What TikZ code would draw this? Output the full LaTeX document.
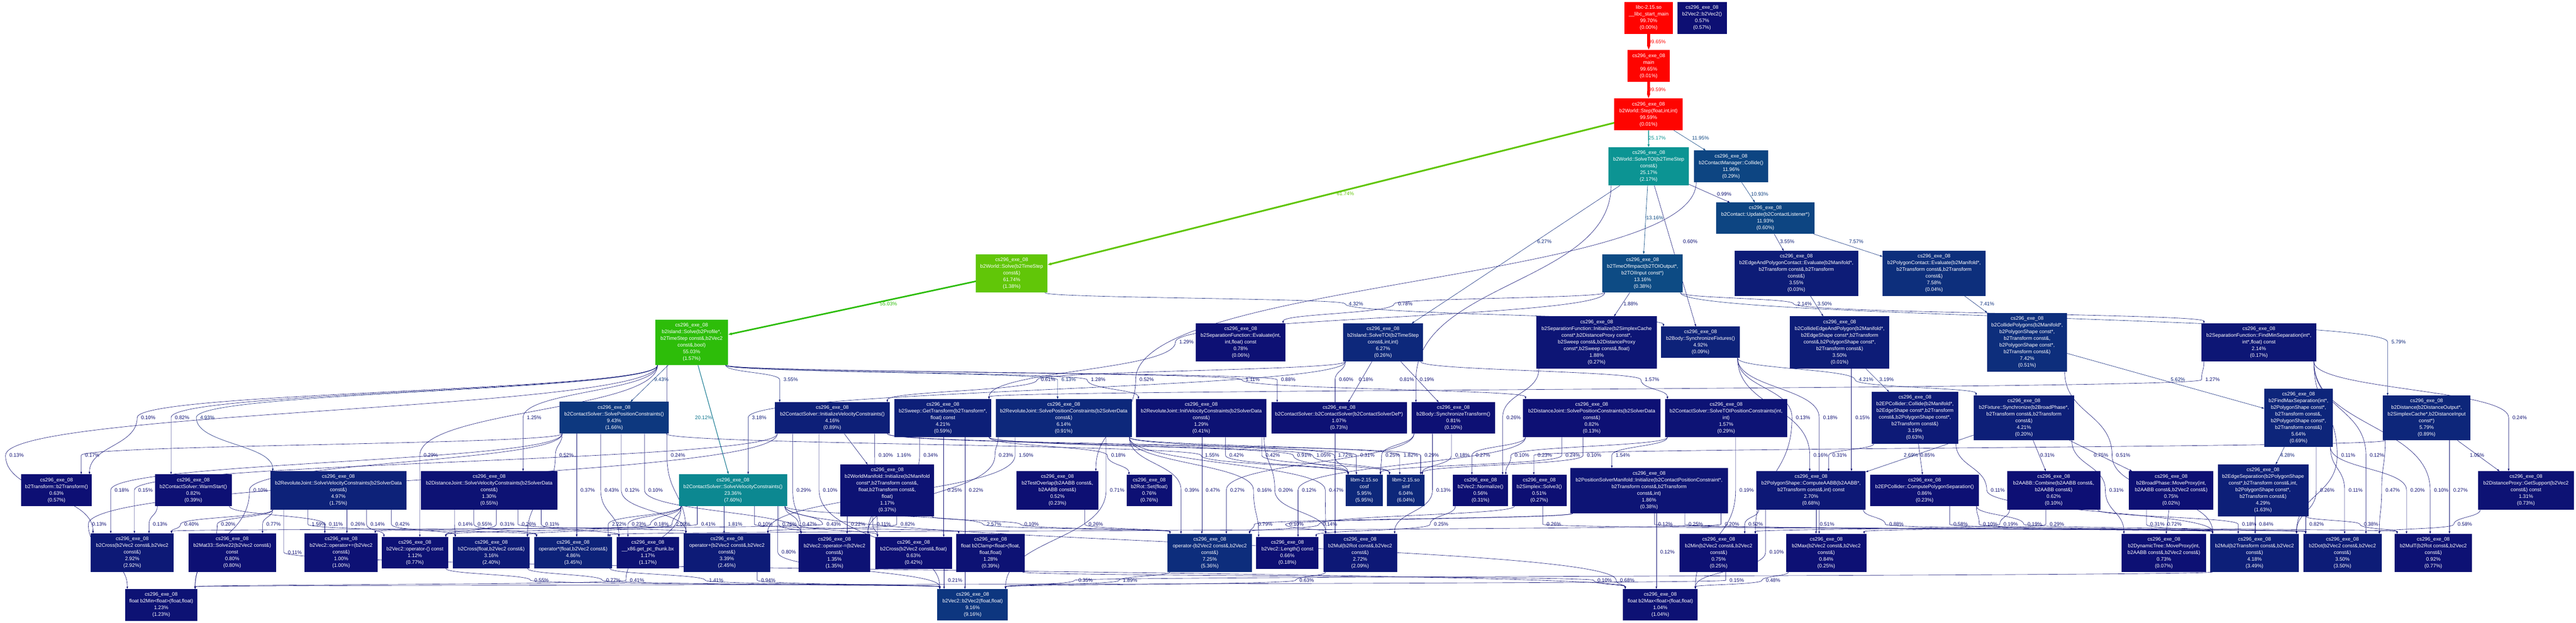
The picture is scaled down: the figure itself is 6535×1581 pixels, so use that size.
\documentclass[tikz,border=0pt]{standalone}
\usepackage{fontspec}
\setmainfont{Liberation Sans}
\usetikzlibrary{arrows.meta}
\pgfdeclarelayer{bg}
\pgfdeclarelayer{edges}
\pgfsetlayers{bg,edges,main}
\tikzset{
  gpnode/.style={rectangle, inner sep=0pt, outer sep=0pt, text=white, align=center, font=\fontsize{12.8}{17}\selectfont},
  gplabel/.style={inner sep=0pt, font=\fontsize{12.8}{17}\selectfont},
}
\newcommand\gpcs{cs296\_exe\_08}
\makeatletter
\newcommand\gp@chan[2]{%
  \pgfmathsetmacro\gp@x{#1}%
  \pgfmathsetmacro\gp@y{(\gp@x<1/6) ? (\gp@ma+(\gp@mb-\gp@ma)*\gp@x*6) : ((\gp@x<0.5) ? (\gp@mb) : ((\gp@x<2/3) ? (\gp@ma+(\gp@mb-\gp@ma)*(2/3-\gp@x)*6) : (\gp@ma)))}%
  \pgfmathsetmacro#2{max(0,min(1,\gp@y))}}
\newcommand\gpSetColor[2]{%
  \pgfmathsetmacro\gp@h{2/3*(1-(#2))}%
  \pgfmathsetmacro\gp@s{0.8+0.2*(#2)}%
  \pgfmathsetmacro\gp@l{0.25+0.25*(#2)}%
  \pgfmathsetmacro\gp@mb{\gp@l*(1+\gp@s)}%
  \pgfmathsetmacro\gp@ma{2*\gp@l-\gp@mb}%
  \gp@chan{mod(\gp@h+1/3,1)}\gp@r
  \gp@chan{\gp@h}\gp@g
  \gp@chan{mod(\gp@h+2/3,1)}\gp@b
  \edef\gp@tmp{\noexpand\definecolor{#1}{rgb}{\gp@r,\gp@g,\gp@b}}\gp@tmp}
\newcommand\gpN[7]{%
  \gpSetColor{gpc#1}{#6}%
  \expandafter\xdef\csname gpxa@#1\endcsname{#2}%
  \expandafter\xdef\csname gpya@#1\endcsname{#3}%
  \expandafter\xdef\csname gpxb@#1\endcsname{#4}%
  \expandafter\xdef\csname gpyb@#1\endcsname{#5}%
  \pgfmathsetmacro\gp@w{#4-#2}%
  \pgfmathsetmacro\gp@hh{#5-#3}%
  \pgfmathsetmacro\gp@cx{(#2+#4)/2}%
  \pgfmathsetmacro\gp@cy{(#3+#5)/2}%
  \node[gpnode,fill=gpc#1,minimum width=\gp@w pt,minimum height=\gp@hh pt] (#1) at (\gp@cx,\gp@cy) {#7};}
\newcommand\gp@edgestyle[1]{%
  \gpSetColor{gpe}{(#1)/100}%
  \pgfmathsetmacro\gp@lw{max(0.8,7*(#1)/100)}%
  \pgfmathsetmacro\gp@al{6+6*(#1)/100}%
  \pgfmathsetmacro\gp@aw{0.65*\gp@al}}
\newcommand\gpEs[5]{%
  \gp@edgestyle{#1}%
  \begin{pgfonlayer}{edges}%
  \draw[gpe,line width=\gp@lw pt,-{Triangle[length=\gp@al pt,width=\gp@aw pt]}] (#2) -- (#3);%
  \node[gplabel,text=gpe] at (#4,#5) {#1\%};%
  \end{pgfonlayer}}
\newcommand\gpEc[5]{%
  \gp@edgestyle{#1}%
  \edef\gp@axa{\csname gpxa@#2\endcsname}%
  \edef\gp@axb{\csname gpxb@#2\endcsname}%
  \edef\gp@ayb{\csname gpyb@#2\endcsname}%
  \edef\gp@bxa{\csname gpxa@#3\endcsname}%
  \edef\gp@bxb{\csname gpxb@#3\endcsname}%
  \edef\gp@bya{\csname gpya@#3\endcsname}%
  \pgfmathsetmacro\gp@mx{#4-28}%
  \pgfmathsetmacro\gp@sx{max(\gp@axa+6,min(\gp@axb-6,\gp@mx))}%
  \pgfmathsetmacro\gp@tx{max(\gp@bxa+6,min(\gp@bxb-6,\gp@mx))}%
  \pgfmathsetmacro\gp@dsx{\gp@sx-\gp@axa}%
  \pgfmathsetmacro\gp@dtx{\gp@tx-\gp@bxa}%
  \pgfmathsetmacro\gp@ca{(\gp@ayb+#5)/2}%
  \pgfmathsetmacro\gp@cb{(#5+\gp@bya)/2}%
  \begin{pgfonlayer}{edges}%
  \draw[gpe,line width=\gp@lw pt,-{Triangle[length=\gp@al pt,width=\gp@aw pt]}]
    ([xshift=\gp@dsx pt]#2.south west) .. controls (\gp@sx,\gp@ca) and (\gp@mx,\gp@ca) .. (\gp@mx,#5)
    .. controls (\gp@mx,\gp@cb) and (\gp@tx,\gp@cb) .. ([xshift=\gp@dtx pt]#3.north west);%
  \node[gplabel,text=gpe] at (#4,#5) {#1\%};%
  \end{pgfonlayer}}
\makeatother
\begin{document}
\begin{tikzpicture}[x=1pt,y=-1pt]
\useasboundingbox (0,0) rectangle (6535,1581);
\begin{pgfonlayer}{bg}
\fill[white] (0,0) rectangle (6535,1581);
\end{pgfonlayer}
% ---------------- nodes ----------------
\gpN{libc}{4121}{5}{4244}{86}{0.9970}{libc-2.15.so\\\_\_libc\_start\_main\\99.70\%\\(0.00\%)}
\gpN{vecctor}{4255}{5}{4381}{86}{0.0057}{\gpcs\\b2Vec2::b2Vec2()\\0.57\%\\(0.57\%)}
\gpN{main}{4129}{127}{4236}{208}{0.9965}{\gpcs\\main\\99.65\%\\(0.01\%)}
\gpN{step}{4095}{250}{4269}{331}{0.9959}{\gpcs\\b2World::Step(float,int,int)\\99.59\%\\(0.01\%)}
\gpN{solvetoi}{4081}{374}{4284}{471}{0.2517}{\gpcs\\b2World::SolveTOI(b2TimeStep\\const\&)\\25.17\%\\(2.17\%)}
\gpN{collide}{4297}{382}{4486}{463}{0.1196}{\gpcs\\b2ContactManager::Collide()\\11.96\%\\(0.29\%)}
\gpN{update}{4354}{514}{4603}{594}{0.1193}{\gpcs\\b2Contact::Update(b2ContactListener*)\\11.93\%\\(0.60\%)}
\gpN{wsolve}{2476}{646}{2657}{743}{0.6174}{\gpcs\\b2World::Solve(b2TimeStep\\const\&)\\61.74\%\\(1.38\%)}
\gpN{toi}{4065}{645}{4269}{743}{0.1316}{\gpcs\\b2TimeOfImpact(b2TOIOutput*,\\b2TOIInput const*)\\13.16\%\\(0.38\%)}
\gpN{edgepolyeval}{4400}{637}{4714}{751}{0.0355}{\gpcs\\b2EdgeAndPolygonContact::Evaluate(b2Manifold*,\\b2Transform const\&,b2Transform\\const\&)\\3.55\%\\(0.03\%)}
\gpN{polyeval}{4776}{637}{5037}{751}{0.0758}{\gpcs\\b2PolygonContact::Evaluate(b2Manifold*,\\b2Transform const\&,b2Transform\\const\&)\\7.58\%\\(0.04\%)}
\gpN{isolve}{1662}{811}{1847}{927}{0.5503}{\gpcs\\b2Island::Solve(b2Profile*,\\b2TimeStep const\&,b2Vec2\\const\&,bool)\\55.03\%\\(1.57\%)}
\gpN{sepeval}{3034}{821}{3261}{918}{0.0078}{\gpcs\\b2SeparationFunction::Evaluate(int,\\int,float) const\\0.78\%\\(0.06\%)}
\gpN{isolvetoi}{3407}{821}{3610}{918}{0.0627}{\gpcs\\b2Island::SolveTOI(b2TimeStep\\const\&,int,int)\\6.27\%\\(0.26\%)}
\gpN{sepinit}{3898}{803}{4203}{936}{0.0188}{\gpcs\\b2SeparationFunction::Initialize(b2SimplexCache\\const*,b2DistanceProxy const*,\\b2Sweep const\&,b2DistanceProxy\\const*,b2Sweep const\&,float)\\1.88\%\\(0.27\%)}
\gpN{syncfix}{4214}{829}{4414}{909}{0.0492}{\gpcs\\b2Body::SynchronizeFixtures()\\4.92\%\\(0.09\%)}
\gpN{collideedgepoly}{4541}{803}{4793}{936}{0.0350}{\gpcs\\b2CollideEdgeAndPolygon(b2Manifold*,\\b2EdgeShape const*,b2Transform\\const\&,b2PolygonShape const*,\\b2Transform const\&)\\3.50\%\\(0.01\%)}
\gpN{collidepolys}{5041}{794}{5244}{944}{0.0742}{\gpcs\\b2CollidePolygons(b2Manifold*,\\b2PolygonShape const*,\\b2Transform const\&,\\b2PolygonShape const*,\\b2Transform const\&)\\7.42\%\\(0.51\%)}
\gpN{findminsep}{5585}{821}{5876}{918}{0.0214}{\gpcs\\b2SeparationFunction::FindMinSeparation(int*,\\int*,float) const\\2.14\%\\(0.17\%)}
\gpN{solvepos}{1420}{1020}{1696}{1101}{0.0943}{\gpcs\\b2ContactSolver::SolvePositionConstraints()\\9.43\%\\(1.66\%)}
\gpN{initvel}{1966}{1021}{2257}{1101}{0.0416}{\gpcs\\b2ContactSolver::InitializeVelocityConstraints()\\4.16\%\\(0.89\%)}
\gpN{gettransform}{2269}{1013}{2515}{1110}{0.0421}{\gpcs\\b2Sweep::GetTransform(b2Transform*,\\float) const\\4.21\%\\(0.59\%)}
\gpN{revsolvepos}{2526}{1013}{2871}{1110}{0.0614}{\gpcs\\b2RevoluteJoint::SolvePositionConstraints(b2SolverData\\const\&)\\6.14\%\\(0.91\%)}
\gpN{revinitvel}{2882}{1013}{3213}{1110}{0.0129}{\gpcs\\b2RevoluteJoint::InitVelocityConstraints(b2SolverData\\const\&)\\1.29\%\\(0.41\%)}
\gpN{csctor}{3225}{1021}{3569}{1101}{0.0107}{\gpcs\\b2ContactSolver::b2ContactSolver(b2ContactSolverDef*)\\1.07\%\\(0.73\%)}
\gpN{synctrans}{3581}{1021}{3793}{1101}{0.0081}{\gpcs\\b2Body::SynchronizeTransform()\\0.81\%\\(0.10\%)}
\gpN{distsolvepos}{3864}{1013}{4212}{1110}{0.0082}{\gpcs\\b2DistanceJoint::SolvePositionConstraints(b2SolverData\\const\&)\\0.82\%\\(0.13\%)}
\gpN{toisolvepos}{4224}{1013}{4534}{1110}{0.0157}{\gpcs\\b2ContactSolver::SolveTOIPositionConstraints(int,\\int)\\1.57\%\\(0.29\%)}
\gpN{epcollide}{4748}{995}{4968}{1126}{0.0319}{\gpcs\\b2EPCollider::Collide(b2Manifold*,\\b2EdgeShape const*,b2Transform\\const\&,b2PolygonShape const*,\\b2Transform const\&)\\3.19\%\\(0.63\%)}
\gpN{fixsync}{5007}{1004}{5262}{1118}{0.0421}{\gpcs\\b2Fixture::Synchronize(b2BroadPhase*,\\b2Transform const\&,b2Transform\\const\&)\\4.21\%\\(0.20\%)}
\gpN{findmaxsep}{5744}{987}{5918}{1135}{0.0564}{\gpcs\\b2FindMaxSeparation(int*,\\b2PolygonShape const*,\\b2Transform const\&,\\b2PolygonShape const*,\\b2Transform const\&)\\5.64\%\\(0.69\%)}
\gpN{distance}{6045}{1004}{6267}{1118}{0.0579}{\gpcs\\b2Distance(b2DistanceOutput*,\\b2SimplexCache*,b2DistanceInput\\const*)\\5.79\%\\(0.89\%)}
\gpN{transform}{54}{1204}{233}{1285}{0.0063}{\gpcs\\b2Transform::b2Transform()\\0.63\%\\(0.57\%)}
\gpN{warmstart}{393}{1204}{588}{1285}{0.0082}{\gpcs\\b2ContactSolver::WarmStart()\\0.82\%\\(0.39\%)}
\gpN{revsolvevel}{686}{1196}{1031}{1294}{0.0497}{\gpcs\\b2RevoluteJoint::SolveVelocityConstraints(b2SolverData\\const\&)\\4.97\%\\(1.75\%)}
\gpN{distsolvevel}{1068}{1196}{1414}{1294}{0.0130}{\gpcs\\b2DistanceJoint::SolveVelocityConstraints(b2SolverData\\const\&)\\1.30\%\\(0.55\%)}
\gpN{solvevel}{1722}{1204}{1997}{1285}{0.2336}{\gpcs\\b2ContactSolver::SolveVelocityConstraints()\\23.36\%\\(7.60\%)}
\gpN{wmanifold}{2132}{1179}{2370}{1311}{0.0117}{\gpcs\\b2WorldManifold::Initialize(b2Manifold\\const*,b2Transform const\&,\\float,b2Transform const\&,\\float)\\1.17\%\\(0.37\%)}
\gpN{testoverlap}{2579}{1196}{2786}{1294}{0.0052}{\gpcs\\b2TestOverlap(b2AABB const\&,\\b2AABB const\&)\\0.52\%\\(0.23\%)}
\gpN{rotset}{2858}{1205}{2973}{1285}{0.0076}{\gpcs\\b2Rot::Set(float)\\0.76\%\\(0.76\%)}
\gpN{cosf}{3414}{1205}{3508}{1285}{0.0595}{libm-2.15.so\\cosf\\5.95\%\\(5.95\%)}
\gpN{sinf}{3519}{1205}{3614}{1285}{0.0604}{libm-2.15.so\\sinf\\6.04\%\\(6.04\%)}
\gpN{normalize}{3686}{1205}{3826}{1285}{0.0056}{\gpcs\\b2Vec2::Normalize()\\0.56\%\\(0.31\%)}
\gpN{solve3}{3836}{1205}{3974}{1285}{0.0051}{\gpcs\\b2Simplex::Solve3()\\0.51\%\\(0.27\%)}
\gpN{psm}{3984}{1188}{4383}{1303}{0.0186}{\gpcs\\b2PositionSolverManifold::Initialize(b2ContactPositionConstraint*,\\b2Transform const\&,b2Transform\\const\&,int)\\1.86\%\\(0.38\%)}
\gpN{computeaabb}{4456}{1196}{4733}{1294}{0.0270}{\gpcs\\b2PolygonShape::ComputeAABB(b2AABB*,\\b2Transform const\&,int) const\\2.70\%\\(0.68\%)}
\gpN{cps}{4745}{1205}{5020}{1285}{0.0086}{\gpcs\\b2EPCollider::ComputePolygonSeparation()\\0.86\%\\(0.23\%)}
\gpN{combine}{5092}{1196}{5328}{1294}{0.0062}{\gpcs\\b2AABB::Combine(b2AABB const\&,\\b2AABB const\&)\\0.62\%\\(0.10\%)}
\gpN{bpmove}{5401}{1196}{5615}{1294}{0.0075}{\gpcs\\b2BroadPhase::MoveProxy(int,\\b2AABB const\&,b2Vec2 const\&)\\0.75\%\\(0.02\%)}
\gpN{edgesep}{5626}{1179}{5856}{1311}{0.0429}{\gpcs\\b2EdgeSeparation(b2PolygonShape\\const*,b2Transform const\&,int,\\b2PolygonShape const*,\\b2Transform const\&)\\4.29\%\\(1.63\%)}
\gpN{getsupport}{6286}{1196}{6530}{1294}{0.0131}{\gpcs\\b2DistanceProxy::GetSupport(b2Vec2\\const\&) const\\1.31\%\\(0.73\%)}
\gpN{crossvv}{230}{1354}{441}{1452}{0.0292}{\gpcs\\b2Cross(b2Vec2 const\&,b2Vec2\\const\&)\\2.92\%\\(2.92\%)}
\gpN{solve22}{478}{1354}{700}{1452}{0.0080}{\gpcs\\b2Mat33::Solve22(b2Vec2 const\&)\\const\\0.80\%\\(0.80\%)}
\gpN{pluseq}{773}{1354}{958}{1452}{0.0100}{\gpcs\\b2Vec2::operator+=(b2Vec2\\const\&)\\1.00\%\\(1.00\%)}
\gpN{neg}{968}{1363}{1137}{1443}{0.0112}{\gpcs\\b2Vec2::operator-() const\\1.12\%\\(0.77\%)}
\gpN{crossfv}{1149}{1363}{1344}{1443}{0.0316}{\gpcs\\b2Cross(float,b2Vec2 const\&)\\3.16\%\\(2.40\%)}
\gpN{mulfv}{1355}{1363}{1553}{1443}{0.0486}{\gpcs\\operator*(float,b2Vec2 const\&)\\4.86\%\\(3.45\%)}
\gpN{thunk}{1564}{1363}{1723}{1443}{0.0117}{\gpcs\\\_\_x86.get\_pc\_thunk.bx\\1.17\%\\(1.17\%)}
\gpN{plus}{1734}{1354}{1954}{1452}{0.0339}{\gpcs\\operator+(b2Vec2 const\&,b2Vec2\\const\&)\\3.39\%\\(2.45\%)}
\gpN{minuseq}{2026}{1355}{2208}{1452}{0.0135}{\gpcs\\b2Vec2::operator-=(b2Vec2\\const\&)\\1.35\%\\(1.35\%)}
\gpN{crossvf}{2220}{1363}{2415}{1444}{0.0063}{\gpcs\\b2Cross(b2Vec2 const\&,float)\\0.63\%\\(0.42\%)}
\gpN{clamp}{2426}{1355}{2600}{1452}{0.0128}{\gpcs\\float b2Clamp<float>(float,\\float,float)\\1.28\%\\(0.39\%)}
\gpN{minus}{2962}{1355}{3176}{1452}{0.0725}{\gpcs\\operator-(b2Vec2 const\&,b2Vec2\\const\&)\\7.25\%\\(5.36\%)}
\gpN{length}{3187}{1363}{3345}{1444}{0.0066}{\gpcs\\b2Vec2::Length() const\\0.66\%\\(0.18\%)}
\gpN{mulrot}{3357}{1355}{3544}{1452}{0.0272}{\gpcs\\b2Mul(b2Rot const\&,b2Vec2\\const\&)\\2.72\%\\(2.09\%)}
\gpN{minvv}{4261}{1355}{4459}{1452}{0.0075}{\gpcs\\b2Min(b2Vec2 const\&,b2Vec2\\const\&)\\0.75\%\\(0.25\%)}
\gpN{maxvv}{4531}{1355}{4735}{1452}{0.0084}{\gpcs\\b2Max(b2Vec2 const\&,b2Vec2\\const\&)\\0.84\%\\(0.25\%)}
\gpN{dtmove}{5382}{1355}{5597}{1452}{0.0073}{\gpcs\\b2DynamicTree::MoveProxy(int,\\b2AABB const\&,b2Vec2 const\&)\\0.73\%\\(0.07\%)}
\gpN{multrans}{5607}{1355}{5832}{1452}{0.0418}{\gpcs\\b2Mul(b2Transform const\&,b2Vec2\\const\&)\\4.18\%\\(3.49\%)}
\gpN{dot}{5843}{1355}{6042}{1452}{0.0350}{\gpcs\\b2Dot(b2Vec2 const\&,b2Vec2\\const\&)\\3.50\%\\(3.50\%)}
\gpN{mult}{6075}{1355}{6271}{1452}{0.0092}{\gpcs\\b2MulT(b2Rot const\&,b2Vec2\\const\&)\\0.92\%\\(0.77\%)}
\gpN{minf}{317}{1495}{501}{1576}{0.0123}{\gpcs\\float b2Min<float>(float,float)\\1.23\%\\(1.23\%)}
\gpN{vec2ff}{2378}{1495}{2557}{1575}{0.0916}{\gpcs\\b2Vec2::b2Vec2(float,float)\\9.16\%\\(9.16\%)}
\gpN{maxf}{4117}{1495}{4307}{1575}{0.0104}{\gpcs\\float b2Max<float>(float,float)\\1.04\%\\(1.04\%)}
% ---------------- straight edges ----------------
\gpEs{99.65}{libc}{main}{4204}{106}
\gpEs{99.59}{main}{step}{4204}{228}
\gpEs{25.17}{step}{solvetoi}{4204}{351}
\gpEs{11.95}{step}{collide}{4314}{351}
\gpEs{61.74}{step}{wsolve}{3413}{492}
\gpEs{10.93}{collide}{update}{4464}{493}
\gpEs{0.99}{solvetoi}{update}{4374}{493}
\gpEs{13.16}{solvetoi}{toi}{4198}{553}
\gpEs{6.27}{solvetoi}{isolvetoi}{3918}{613}
\gpEs{0.60}{solvetoi}{syncfix}{4288}{613}
\gpEs{3.55}{update}{edgepolyeval}{4534}{613}
\gpEs{7.57}{update}{polyeval}{4709}{613}
\gpEs{55.03}{wsolve}{isolve}{2254}{771}
\gpEs{1.88}{toi}{sepinit}{4137}{771}
\gpEs{3.50}{edgepolyeval}{collideedgepoly}{4629}{771}
\gpEs{7.41}{polyeval}{collidepolys}{5041}{771}
\gpEs{9.43}{isolve}{solvepos}{1678}{964}
\gpEs{20.12}{isolve}{solvevel}{1785}{1060}
\gpEs{0.81}{isolvetoi}{synctrans}{3569}{964}
\gpEs{0.18}{isolvetoi}{csctor}{3465}{964}
\gpEs{3.19}{collideedgepoly}{epcollide}{4786}{964}
\gpEs{5.62}{collidepolys}{findmaxsep}{5525}{964}
\gpEs{4.28}{findmaxsep}{edgesep}{5803}{1156}
\gpEs{0.85}{epcollide}{cps}{4890}{1156}
\gpEs{1.05}{distance}{getsupport}{6284}{1156}
\gpEs{2.69}{fixsync}{computeaabb}{4848}{1156}
\gpEs{0.31}{fixsync}{combine}{5194}{1156}
\gpEs{0.75}{fixsync}{bpmove}{5330}{1156}
\gpEs{0.72}{bpmove}{dtmove}{5516}{1331}
\gpEs{1.16}{initvel}{wmanifold}{2293}{1156}
% ---------------- curved edges ----------------
\gpEc{4.32}{wsolve}{syncfix}{3440}{771}
\gpEc{0.78}{toi}{sepeval}{3565}{771}
\gpEc{2.14}{toi}{findminsep}{4578}{771}
\gpEc{5.79}{toi}{distance}{6085}{868}
\gpEc{1.29}{toi}{gettransform}{3010}{868}
\gpEc{0.24}{findminsep}{getsupport}{6392}{1060}
\gpEc{3.55}{isolve}{initvel}{2006}{964}
\gpEc{0.61}{isolvetoi}{initvel}{2659}{964}
\gpEc{6.13}{isolve}{revsolvepos}{2711}{964}
\gpEc{1.28}{isolve}{revinitvel}{2786}{964}
\gpEc{0.52}{collide}{testoverlap}{2909}{964}
\gpEc{1.11}{isolve}{distsolvepos}{3178}{964}
\gpEc{0.88}{isolve}{csctor}{3268}{964}
\gpEc{0.60}{isolvetoi}{mulrot}{3415}{964}
\gpEc{0.19}{solvetoi}{synctrans}{3620}{964}
\gpEc{1.57}{isolvetoi}{toisolvepos}{4191}{964}
\gpEc{4.21}{syncfix}{fixsync}{4734}{964}
\gpEc{1.27}{findminsep}{gettransform}{5613}{964}
\gpEc{0.10}{isolve}{transform}{376}{1060}
\gpEc{0.82}{isolve}{warmstart}{462}{1060}
\gpEc{4.93}{isolve}{revsolvevel}{526}{1060}
\gpEc{1.25}{isolve}{distsolvevel}{1355}{1060}
\gpEc{3.18}{isolvetoi}{solvevel}{1926}{1060}
\gpEc{0.26}{sepinit}{normalize}{3840}{1060}
\gpEc{0.13}{syncfix}{minvv}{4574}{1060}
\gpEc{0.18}{syncfix}{maxvv}{4643}{1060}
\gpEc{0.15}{collideedgepoly}{computeaabb}{4725}{1060}
\gpEc{0.13}{isolve}{crossvv}{42}{1156}
\gpEc{0.17}{solvepos}{transform}{234}{1156}
\gpEc{0.29}{isolve}{neg}{1093}{1156}
\gpEc{0.52}{solvepos}{crossfv}{1437}{1156}
\gpEc{0.24}{isolve}{plus}{1720}{1156}
\gpEc{0.10}{initvel}{crossvf}{2247}{1156}
\gpEc{0.34}{gettransform}{minuseq}{2361}{1156}
\gpEc{0.23}{revsolvepos}{minuseq}{2552}{1156}
\gpEc{1.50}{revsolvepos}{plus}{2603}{1156}
\gpEc{0.18}{gettransform}{rotset}{2837}{1156}
\gpEc{1.55}{solvepos}{cosf}{3075}{1156}
\gpEc{0.42}{revinitvel}{cosf}{3137}{1156}
\gpEc{0.42}{revinitvel}{sinf}{3229}{1156}
\gpEc{0.91}{gettransform}{cosf}{3309}{1156}
\gpEc{1.05}{gettransform}{sinf}{3358}{1156}
\gpEc{1.72}{revsolvepos}{cosf}{3413}{1156}
\gpEc{0.31}{initvel}{cosf}{3469}{1156}
\gpEc{0.25}{synctrans}{cosf}{3533}{1156}
\gpEc{1.82}{revsolvepos}{sinf}{3579}{1156}
\gpEc{0.29}{initvel}{sinf}{3632}{1156}
\gpEc{0.18}{synctrans}{sinf}{3710}{1156}
\gpEc{0.27}{distsolvepos}{normalize}{3762}{1156}
\gpEc{0.10}{toisolvepos}{normalize}{3861}{1156}
\gpEc{0.23}{distance}{solve3}{3919}{1156}
\gpEc{0.24}{distsolvepos}{cosf}{3990}{1156}
\gpEc{0.10}{distsolvepos}{sinf}{4044}{1156}
\gpEc{1.54}{toisolvepos}{psm}{4117}{1156}
\gpEc{0.16}{syncfix}{computeaabb}{4619}{1156}
\gpEc{0.31}{epcollide}{computeaabb}{4667}{1156}
\gpEc{0.51}{collidepolys}{multrans}{5386}{1156}
\gpEc{0.11}{findminsep}{multrans}{5957}{1156}
\gpEc{0.12}{findminsep}{dot}{6030}{1156}
\gpEc{0.18}{solvepos}{crossvv}{309}{1244}
\gpEc{0.15}{initvel}{crossvv}{369}{1244}
\gpEc{0.10}{solvepos}{minf}{661}{1244}
\gpEc{0.37}{solvepos}{mulfv}{1491}{1244}
\gpEc{0.43}{solvepos}{thunk}{1552}{1244}
\gpEc{0.12}{solvepos}{plus}{1604}{1244}
\gpEc{0.10}{solvepos}{minuseq}{1663}{1244}
\gpEc{0.29}{initvel}{minuseq}{2039}{1244}
\gpEc{0.10}{initvel}{vec2ff}{2106}{1244}
\gpEc{0.25}{gettransform}{crossvf}{2422}{1244}
\gpEc{0.22}{gettransform}{vec2ff}{2476}{1244}
\gpEc{0.71}{revsolvepos}{vec2ff}{2834}{1244}
\gpEc{0.39}{revsolvepos}{minus}{3024}{1244}
\gpEc{0.47}{revinitvel}{minus}{3077}{1244}
\gpEc{0.27}{synctrans}{minus}{3139}{1244}
\gpEc{0.16}{revsolvepos}{length}{3208}{1244}
\gpEc{0.20}{revinitvel}{mulrot}{3262}{1244}
\gpEc{0.12}{distsolvepos}{length}{3321}{1244}
\gpEc{0.47}{revsolvepos}{mulrot}{3390}{1244}
\gpEc{0.13}{synctrans}{mulrot}{3662}{1244}
\gpEc{0.19}{toisolvepos}{maxf}{4431}{1244}
\gpEc{0.11}{epcollide}{multrans}{5068}{1244}
\gpEc{0.31}{fixsync}{dtmove}{5369}{1244}
\gpEc{0.26}{findmaxsep}{multrans}{5904}{1244}
\gpEc{0.11}{findmaxsep}{dot}{5976}{1244}
\gpEc{0.47}{distance}{dot}{6070}{1244}
\gpEc{0.20}{findmaxsep}{mult}{6133}{1244}
\gpEc{0.10}{findminsep}{mult}{6193}{1244}
\gpEc{0.27}{distance}{mult}{6242}{1244}
\gpEc{0.13}{initvel}{minf}{252}{1331}
\gpEc{0.13}{warmstart}{crossvv}{406}{1331}
\gpEc{0.40}{revsolvevel}{crossvv}{486}{1331}
\gpEc{0.20}{revsolvevel}{minf}{579}{1331}
\gpEc{0.77}{revsolvevel}{solve22}{694}{1331}
\gpEc{1.59}{revsolvevel}{mulfv}{809}{1331}
\gpEc{0.11}{warmstart}{pluseq}{852}{1331}
\gpEc{0.26}{revsolvevel}{pluseq}{908}{1331}
\gpEc{0.14}{revsolvevel}{neg}{958}{1331}
\gpEc{0.42}{revsolvevel}{crossfv}{1021}{1331}
\gpEc{0.14}{distsolvevel}{crossfv}{1181}{1331}
\gpEc{0.55}{distsolvevel}{mulfv}{1230}{1331}
\gpEc{0.31}{distsolvevel}{neg}{1287}{1331}
\gpEc{0.26}{distsolvevel}{plus}{1342}{1331}
\gpEc{0.11}{distsolvevel}{thunk}{1401}{1331}
\gpEc{2.22}{solvevel}{mulfv}{1571}{1331}
\gpEc{0.23}{solvevel}{thunk}{1621}{1331}
\gpEc{0.18}{solvevel}{neg}{1678}{1331}
\gpEc{2.09}{solvevel}{crossfv}{1733}{1331}
\gpEc{0.41}{solvevel}{pluseq}{1797}{1331}
\gpEc{1.81}{solvevel}{plus}{1865}{1331}
\gpEc{0.10}{solvevel}{clamp}{1942}{1331}
\gpEc{0.76}{solvevel}{minuseq}{2003}{1331}
\gpEc{0.47}{solvevel}{crossvf}{2054}{1331}
\gpEc{0.43}{solvevel}{crossvv}{2115}{1331}
\gpEc{0.22}{wmanifold}{minuseq}{2177}{1331}
\gpEc{0.11}{wmanifold}{crossvf}{2242}{1331}
\gpEc{0.82}{wmanifold}{plus}{2303}{1331}
\gpEc{2.57}{solvevel}{minus}{2522}{1331}
\gpEc{0.10}{wmanifold}{minus}{2617}{1331}
\gpEc{0.26}{testoverlap}{minus}{2780}{1331}
\gpEc{0.79}{psm}{minus}{3210}{1331}
\gpEc{0.10}{psm}{mulrot}{3289}{1331}
\gpEc{0.14}{solve3}{minus}{3374}{1331}
\gpEc{0.25}{normalize}{length}{3656}{1331}
\gpEc{0.26}{solve3}{dot}{3942}{1331}
\gpEc{0.12}{psm}{dot}{4225}{1331}
\gpEc{0.25}{psm}{multrans}{4302}{1331}
\gpEc{0.20}{psm}{mulfv}{4394}{1331}
\gpEc{0.52}{computeaabb}{minvv}{4454}{1331}
\gpEc{0.51}{computeaabb}{maxvv}{4635}{1331}
\gpEc{0.88}{computeaabb}{multrans}{4811}{1331}
\gpEc{0.58}{cps}{dot}{4974}{1331}
\gpEc{0.10}{cps}{multrans}{5049}{1331}
\gpEc{0.19}{combine}{minvv}{5101}{1331}
\gpEc{0.19}{cps}{mult}{5162}{1331}
\gpEc{0.29}{combine}{maxvv}{5218}{1331}
\gpEc{0.31}{bpmove}{multrans}{5473}{1331}
\gpEc{0.18}{combine}{multrans}{5706}{1331}
\gpEc{0.84}{edgesep}{multrans}{5749}{1331}
\gpEc{0.82}{edgesep}{dot}{5877}{1331}
\gpEc{0.38}{edgesep}{mult}{6015}{1331}
\gpEc{0.58}{getsupport}{dot}{6253}{1331}
\gpEc{0.11}{revsolvevel}{maxf}{748}{1402}
\gpEc{0.80}{solvevel}{vec2ff}{2001}{1401}
\gpEc{0.12}{psm}{maxf}{4230}{1401}
\gpEc{0.10}{computeaabb}{maxf}{4507}{1401}
\gpEc{0.55}{neg}{vec2ff}{1374}{1473}
\gpEc{0.77}{crossfv}{vec2ff}{1556}{1473}
\gpEc{0.41}{solvevel}{minf}{1616}{1473}
\gpEc{1.41}{mulfv}{vec2ff}{1817}{1473}
\gpEc{0.94}{plus}{vec2ff}{1949}{1473}
\gpEc{0.21}{crossvf}{vec2ff}{2423}{1473}
\gpEc{0.35}{multrans}{vec2ff}{2754}{1473}
\gpEc{1.89}{minus}{vec2ff}{2867}{1473}
\gpEc{0.63}{mulrot}{vec2ff}{3315}{1473}
\gpEc{0.10}{clamp}{maxf}{4071}{1473}
\gpEc{0.68}{solvevel}{maxf}{4128}{1473}
\gpEc{0.15}{minvv}{minf}{4406}{1473}
\gpEc{0.48}{maxvv}{maxf}{4498}{1473}
\end{tikzpicture}
\end{document}
